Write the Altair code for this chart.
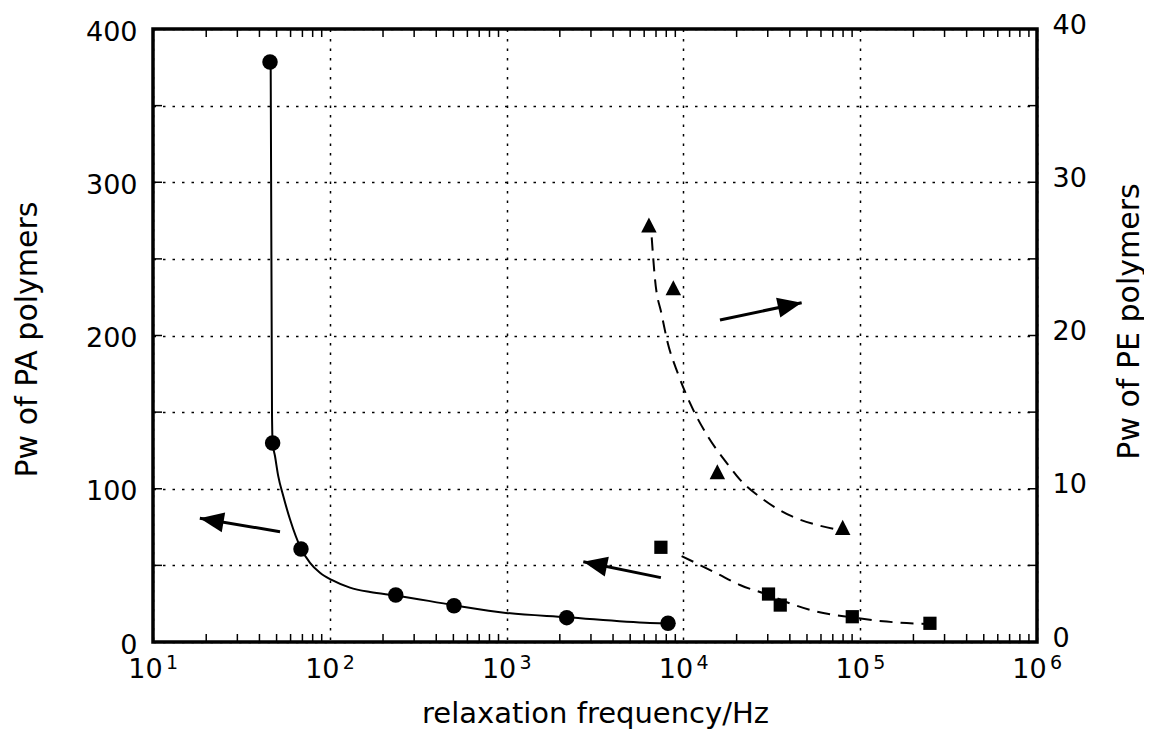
import altair as alt
import pandas as pd

W, H = 884, 613
FONT = "DejaVu Sans"

# ---- data ----
# PA polymers (left axis)
pa_freq = [45.9, 47.5, 68.7, 236, 504, 2188, 8185]
pa_pw = [378.5, 129.9, 60.7, 30.7, 23.7, 15.9, 12.3]
pa_fit_freq = [46.3, 47.1, 47.5, 49.0, 51.1, 54.6, 59.6, 68.7, 77.3, 88.0, 102.5, 130, 169,
               236, 504, 993, 2188, 6471, 8185]
pa_fit_pw = [378.8, 149.8, 130, 121.2, 108.2, 95.1, 79.9, 61.0, 51.7, 45.2, 40.5, 35.5, 32.6,
             30.4, 24.0, 19.0, 16.2, 12.4, 12.0]

# PE polymers (right axis) - triangles
tri_freq = [6383, 8770, 15560, 79600]
tri_pw = [27.2, 23.1, 11.1, 7.47]
tri_fit_freq = [6618, 6909, 7535, 8110, 9354, 10990, 13650, 18190, 20890, 28310, 40930, 60530, 76910]
tri_fit_pw = [26.4, 23.66, 21.37, 19.63, 17.46, 15.5, 13.47, 11.47, 10.6, 9.30, 8.21, 7.56, 7.30]

# PE polymers (right axis) - squares
sq_freq = [7460, 30300, 35300, 90200, 248000]
sq_pw = [6.18, 3.13, 2.41, 1.65, 1.22]
sq_fit_freq = [9772, 11885, 15417, 20893, 30339, 40087, 56754, 90157, 141254, 248313]
sq_fit_pw = [5.61, 5.13, 4.48, 3.72, 3.07, 2.52, 1.98, 1.61, 1.33, 1.17]

# arrows (tail -> tip), in left-axis units
arrow_x = [52.3, 7460, 16100]
arrow_y = [72.0, 42.0, 210.1]
arrow_x2 = [18.4, 2716, 46650]
arrow_y2 = [80.7, 52.4, 221.4]
arrow_angle = [279.7, 281.6, 78.0]

# axis ticks / labels
decades = [10, 100, 1000, 10000, 100000, 1000000]
exponents = ["1", "2", "3", "4", "5", "6"]
minor_ticks = [m * d for d in decades[:-1] for m in range(2, 10)]
left_ticks = [50, 100, 150, 200, 250, 300, 350]
left_values = [0, 50, 100, 150, 200, 250, 300, 350, 400]
right_values = [0, 10, 20, 30, 40]

# ---- tables ----
pa = pd.DataFrame({"f": pa_freq, "v": pa_pw})
pa_fit = pd.DataFrame({"f": pa_fit_freq, "v": pa_fit_pw})
tri = pd.DataFrame({"f": tri_freq, "v": tri_pw})
tri_fit = pd.DataFrame({"f": tri_fit_freq, "v": tri_fit_pw})
sq = pd.DataFrame({"f": sq_freq, "v": sq_pw})
sq_fit = pd.DataFrame({"f": sq_fit_freq, "v": sq_fit_pw})
arrows = pd.DataFrame({"x": arrow_x, "y": arrow_y, "x2": arrow_x2, "y2": arrow_y2, "a": arrow_angle})
dec = pd.DataFrame({"d": decades, "e": exponents})
minor = pd.DataFrame({"f": minor_ticks})
lt = pd.DataFrame({"v": left_ticks})

GRID = dict(grid=True, gridDash=[2.5, 7], gridColor="black", gridWidth=1.5, gridOpacity=1)

xscale = alt.Scale(type="log", domain=[10, 1e6], nice=False)
xaxis = alt.Axis(values=decades, labelExpr="'10'", title="relaxation frequency/Hz",
                 ticks=False, tickSize=0, domain=False, labelFontSize=27, labelPadding=35,
                 labelBaseline="alphabetic", labelOffset=-8, labelFlush=False, labelOverlap=False,
                 labelColor="black", titleColor="black", titleFontSize=29, titleFontWeight="normal",
                 titleY=80, titleBaseline="alphabetic", **GRID)


def X(field):
    return alt.X(f"{field}:Q", scale=xscale, axis=xaxis)


yl_scale = alt.Scale(domain=[0, 400], nice=False)
yl_axis = alt.Axis(values=left_values, labelExpr="datum.value % 100 == 0 ? datum.label : ''",
                   title="Pw of PA polymers", orient="left", ticks=False, tickSize=0, domain=False,
                   labelFontSize=27, labelPadding=16, labelOffset=3, labelOverlap=False,
                   labelColor="black", titleColor="black", titleFontSize=30, titleFontWeight="normal",
                   titleAngle=270, titleX=-117, titleY=310, titleBaseline="alphabetic", **GRID)


def YL(field):
    return alt.Y(f"{field}:Q", scale=yl_scale, axis=yl_axis)


yr_scale = alt.Scale(domain=[0, 40], nice=False)
yr_axis = alt.Axis(values=right_values, title="Pw of PE polymers", orient="right", grid=False,
                   ticks=False, tickSize=0, domain=False, labelFontSize=27, labelPadding=15,
                   labelOffset=-4, labelOverlap=False, labelColor="black", titleColor="black",
                   titleFontSize=30, titleFontWeight="normal", titleAngle=270, titleX=101,
                   titleY=292, titleBaseline="alphabetic")


def YR(field):
    return alt.Y(f"{field}:Q", scale=yr_scale, axis=yr_axis)


# ---- left group (PA + decorations) ----
bottom_minor = alt.Chart(minor).mark_rule(color="black", strokeWidth=1.5).encode(
    x=X("f"), y=alt.value(H), y2=alt.value(H - 8))
top_minor = alt.Chart(minor).mark_rule(color="black", strokeWidth=1.5).encode(
    x=X("f"), y=alt.value(0), y2=alt.value(8))
left_tk = alt.Chart(lt).mark_rule(color="black", strokeWidth=1.5).encode(
    y=YL("v"), x=alt.value(0), x2=alt.value(9))
right_tk = alt.Chart(lt).mark_rule(color="black", strokeWidth=1.5).encode(
    y=YL("v"), x=alt.value(W), x2=alt.value(W - 9))

pa_line = alt.Chart(pa_fit).mark_line(color="black", strokeWidth=2, interpolate="monotone").encode(
    x=X("f"), y=YL("v"), order="f:Q")
pa_pts = alt.Chart(pa).mark_point(shape="circle", filled=True, opacity=1, color="black", size=240).encode(
    x=X("f"), y=YL("v"))

shafts = alt.Chart(arrows).mark_rule(color="black", strokeWidth=3).encode(
    x=X("x"), y=YL("y"), x2=alt.X2("x2"), y2=alt.Y2("y2"))
heads = alt.Chart(arrows).mark_point(shape="M0,0L-0.42,1L0.42,1Z", filled=True, opacity=1,
                                     color="black", size=2300).encode(
    x=X("x2"), y=YL("y2"), angle=alt.Angle("a:Q", scale=None))

expo = alt.Chart(dec).mark_text(align="left", baseline="alphabetic", fontSize=19, dx=13,
                                font=FONT, color="black").encode(
    x=X("d"), y=alt.value(H + 27), text="e:N")

left_group = alt.layer(bottom_minor, top_minor, left_tk, right_tk, pa_line, pa_pts, shafts, heads, expo)

# ---- right group (PE) ----
tri_line = alt.Chart(tri_fit).mark_line(color="black", strokeWidth=2, strokeDash=[13, 8],
                                        interpolate="monotone").encode(x=X("f"), y=YR("v"), order="f:Q")
sq_line = alt.Chart(sq_fit).mark_line(color="black", strokeWidth=2, strokeDash=[13, 8],
                                      interpolate="monotone").encode(x=X("f"), y=YR("v"), order="f:Q")
tri_pts = alt.Chart(tri).mark_point(shape="M0,-1L1,0.95L-1,0.95Z", filled=True, opacity=1,
                                    color="black", size=240).encode(x=X("f"), y=YR("v"))
sq_pts = alt.Chart(sq).mark_point(shape="square", filled=True, opacity=1, color="black",
                                  size=175).encode(x=X("f"), y=YR("v"))

right_group = alt.layer(tri_line, sq_line, tri_pts, sq_pts)

chart = alt.layer(left_group, right_group).resolve_scale(y="independent").properties(
    width=W, height=H,
    autosize=alt.AutoSizeParams(type="none"),
    padding={"left": 145, "top": 21, "right": 107, "bottom": 87},
    background="white",
).configure_view(stroke="black", strokeWidth=3.5).configure_axis(
    labelFont=FONT, titleFont=FONT).configure_text(font=FONT)

chart.save("out.html", embed_options={"renderer": "svg", "actions": False})
